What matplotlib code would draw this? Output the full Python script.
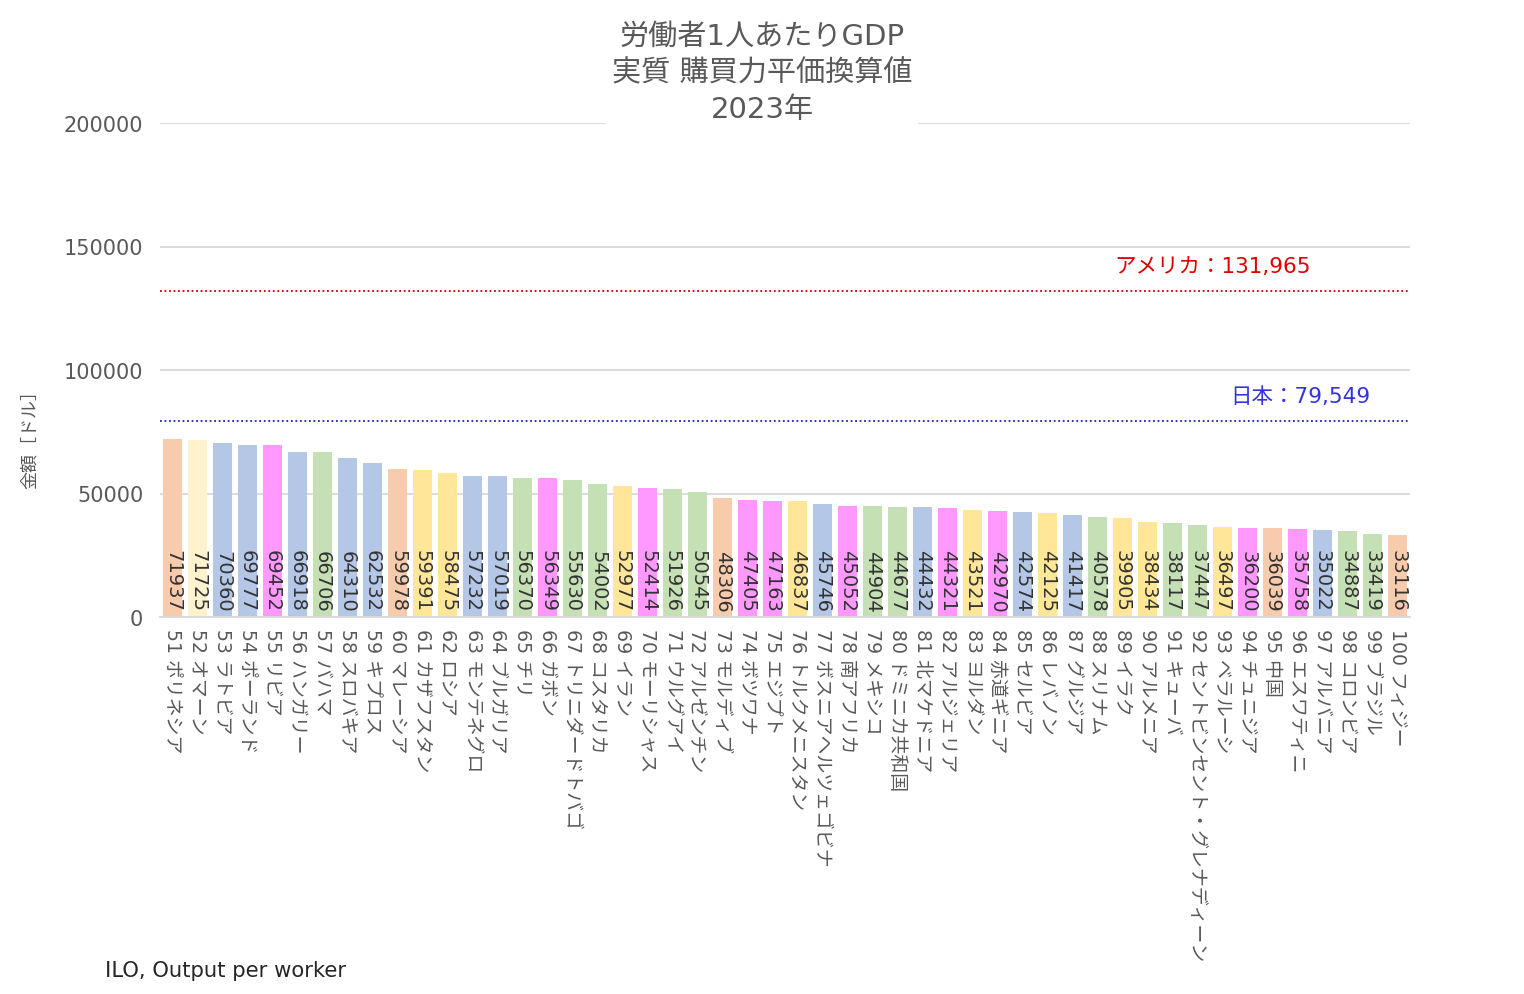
import matplotlib
matplotlib.use("Agg")
import matplotlib.pyplot as plt
import numpy as np

plt.rcParams['font.family'] = ['DejaVu Sans', 'Noto Sans CJK JP']

#%% data
ranks = list(range(51, 101))
countries = [
    "ポリネシア", "オマーン", "ラトビア", "ポーランド", "リビア", "ハンガリー", "バハマ",
    "スロバキア", "キプロス", "マレーシア", "カザフスタン", "ロシア", "モンテネグロ",
    "ブルガリア", "チリ", "ガボン", "トリニダードトバゴ", "コスタリカ", "イラン",
    "モーリシャス", "ウルグアイ", "アルゼンチン", "モルディブ", "ボツワナ", "エジプト",
    "トルクメニスタン", "ボスニアヘルツェゴビナ", "南アフリカ", "メキシコ", "ドミニカ共和国",
    "北マケドニア", "アルジェリア", "ヨルダン", "赤道ギニア", "セルビア", "レバノン",
    "グルジア", "スリナム", "イラク", "アルメニア", "キューバ",
    "セントビンセント・グレナディーン", "ベラルーシ", "チュニジア", "中国", "エスワティニ",
    "アルバニア", "コロンビア", "ブラジル", "フィジー",
]
values = [
    71937, 71725, 70360, 69777, 69452, 66918, 66706, 64310, 62532, 59978,
    59391, 58475, 57232, 57019, 56370, 56349, 55630, 54002, 52977, 52414,
    51926, 50545, 48306, 47405, 47163, 46837, 45746, 45052, 44904, 44677,
    44432, 44321, 43521, 42970, 42574, 42125, 41417, 40578, 39905, 38434,
    38117, 37447, 36497, 36200, 36039, 35758, 35022, 34887, 33419, 33116,
]
# region groups: asia / gulf / europe / africa / americas / west-central asia
regions = [
    "asia", "gulf", "europe", "europe", "africa", "europe", "americas", "europe", "europe", "asia",
    "wasia", "wasia", "europe", "europe", "americas", "africa", "americas", "americas", "wasia", "africa",
    "americas", "americas", "asia", "africa", "africa", "wasia", "europe", "africa", "americas", "americas",
    "europe", "africa", "wasia", "africa", "europe", "wasia", "europe", "americas", "wasia", "wasia",
    "americas", "americas", "wasia", "africa", "asia", "africa", "europe", "americas", "americas", "asia",
]
region_colors = {
    "asia": "#F8CBAD", "gulf": "#FFF2CC", "europe": "#B4C7E7",
    "africa": "#FF99FF", "americas": "#C5E0B4", "wasia": "#FFE699",
}
usa_value = 131965
japan_value = 79549

#%% plot
fig = plt.figure(figsize=(15.24, 9.95), dpi=100)
ax = fig.add_axes([160 / 1524, 1 - 618 / 995, 1250 / 1524, 494 / 995])

x = np.arange(len(values))
ax.bar(x, values, width=0.74, color=[region_colors[r] for r in regions], zorder=2)

for xi, v in zip(x, values):
    ax.text(xi, 2300, str(v), rotation=-90, ha="center", va="bottom",
            fontsize=14, color="#333333", zorder=3)

ax.axhline(usa_value, color="#C00000", linestyle=(0, (1, 1.5)), linewidth=1.3, zorder=3)
ax.axhline(japan_value, color="#2222AA", linestyle=(0, (1, 1.5)), linewidth=1.3, zorder=3)
ax.text(41.6, usa_value + 10000, "アメリカ：131,965", color="#E00000", fontsize=15.5,
        ha="center", va="center", zorder=4)
ax.text(45.1, japan_value + 10000, "日本：79,549", color="#3333DD", fontsize=15.5,
        ha="center", va="center", zorder=4)

ax.set_xlim(-0.5, len(values) - 0.5)
ax.set_ylim(0, 200000)
ax.set_yticks([0, 50000, 100000, 150000, 200000])
ax.set_yticklabels(["0", "50000", "100000", "150000", "200000"])
ax.tick_params(axis="y", length=0, labelsize=15, labelcolor="#595959", pad=12)
ax.grid(axis="y", color="#D9D9D9", linewidth=1.3, zorder=0)
for s in ["top", "right", "left"]:
    ax.spines[s].set_visible(False)
ax.spines["bottom"].set_color("#D9D9D9")
ax.spines["bottom"].set_linewidth(1.3)

ax.set_xticks(x)
ax.set_xticklabels([f"{r} {c}" for r, c in zip(ranks, countries)], rotation=-90,
                   ha="center", va="top", fontsize=13.6, color="#595959")
ax.tick_params(axis="x", length=0, pad=8)

fig.text(762 / 1524, 1 - 73 / 995, "労働者1人あたりGDP\n実質 購買力平価換算値\n2023年",
         ha="center", va="center", fontsize=21, color="#595959", linespacing=1.4,
         bbox=dict(facecolor="white", edgecolor="none", pad=4), zorder=5)
fig.text(30 / 1524, 1 - 435 / 995, "金額［ドル］", rotation=90, ha="center", va="center",
         fontsize=13, color="#595959")
fig.text(105 / 1524, 1 - 971 / 995, "ILO, Output per worker", ha="left", va="center",
         fontsize=15.2, color="#262626")

fig.savefig("out.png", dpi=100)
